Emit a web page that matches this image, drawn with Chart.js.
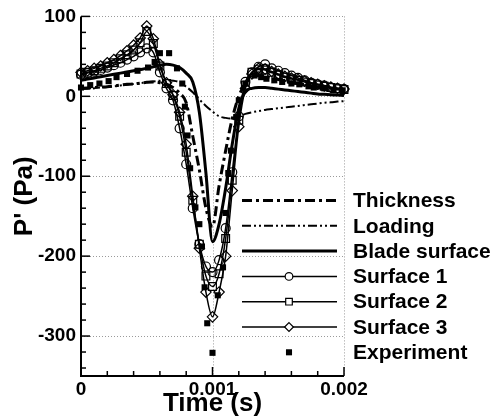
<!DOCTYPE html>
<html>
<head>
<meta charset="utf-8">
<script src="https://cdn.jsdelivr.net/npm/chart.js@4.4.1/dist/chart.umd.min.js"></script>
<style>
html,body{margin:0;padding:0;background:#fff;}
canvas{display:block;}
</style>
</head>
<body>
<canvas id="c" width="492" height="417"></canvas>
<script>
// ---- data (time in seconds, pressure in Pa) ----
const timeS = [0, 0.00005, 0.0001, 0.00015, 0.0002, 0.00025, 0.0003, 0.00035, 0.0004, 0.00045,
  0.0005, 0.00055, 0.0006, 0.00065, 0.0007, 0.00075, 0.0008, 0.00085, 0.0009, 0.00095,
  0.001, 0.00105, 0.0011, 0.00115, 0.0012, 0.00125, 0.0013, 0.00135, 0.0014, 0.00145,
  0.0015, 0.00155, 0.0016, 0.00165, 0.0017, 0.00175, 0.0018, 0.00185, 0.0019, 0.00195, 0.002];

const thickness = [10, 10.5, 11, 11.5, 12, 13, 14, 15, 15.5, 16.5,
  17.5, 18, 17, 15, 11, 4, -8, -50, -92, -140,
  -163, -112, -68, -28, 0, 16, 24, 26, 25, 23,
  21, 19, 17, 16, 14.5, 13, 12, 11, 10, 9, 8];

const loading = [9, 9.5, 10, 11, 11.5, 12.5, 13.5, 14.5, 15.5, 16.5,
  17.5, 18.5, 19.5, 20, 19.5, 17.5, 12, 5, -4, -12,
  -19, -25, -27, -28, -25, -22, -20, -18.5, -17, -16,
  -15, -14, -13, -12, -11, -10, -9, -8, -7.5, -6.5, -6];

const bladeSurface = [20, 21.5, 23, 24.5, 26, 27.5, 29, 30.5, 32, 33.5,
  35, 37, 39, 40, 39, 36, 29, 18, -20, -96,
  -182, -160, -115, -60, -15, 6, 10, 11, 11, 10,
  9, 8, 7, 6, 5, 4, 3, 2.5, 2, 1.5, 1];

const surface1 = [27, 29, 31, 33, 36, 39, 42, 46, 50, 55,
  60, 55, 30, 10, -5, -40, -85, -140, -185, -213,
  -220, -205, -165, -95, -25, 18, 30, 37, 40, 35,
  32, 29, 26, 23, 20, 17, 15, 13.5, 11, 10, 9];

const surface2 = [28, 30, 32, 35, 38, 42, 47, 52, 58, 67,
  81, 66, 38, 16, 1, -25, -70, -130, -185, -225,
  -238, -222, -178, -105, -30, 14, 30, 34, 33, 30,
  27, 24, 22, 20, 18, 16, 14, 12.5, 11, 9.5, 8.5];

const surface3 = [30, 32, 35, 38, 42, 46, 51, 57, 64, 73,
  88, 72, 40, 17, 2, -20, -60, -125, -190, -245,
  -276, -245, -200, -118, -38, 10, 28, 35, 34, 31,
  28, 25, 23, 21, 19, 17, 15, 13, 11.5, 10, 9];

const expTimeS = [0, 0.00007, 0.00014, 0.00021, 0.00027, 0.00035, 0.00043, 0.00051, 0.00056, 0.0006,
  0.00067, 0.00073, 0.00077, 0.00079, 0.00081, 0.00083, 0.00087, 0.0009, 0.00092, 0.00094,
  0.00096, 0.001, 0.00104, 0.00108, 0.0011, 0.00112, 0.00114, 0.00118, 0.0012, 0.00125,
  0.00132, 0.00137, 0.00141, 0.00147, 0.00153, 0.0016, 0.00166, 0.00173, 0.00177, 0.00185,
  0.00192, 0.00199];
const expP = [11, 14, 16, 19, 24, 28, 32, 36, 43, 54,
  54, 35, 16, -13, -49, -90, -139, -160, -188, -239,
  -284, -321, -249, -214, -146, -96, -68, -26, -5, 16,
  26, 24, 22, 20, 18, 16, 15, 12.5, 11, 10,
  7.5, 7.5];

const seriesNames = ['Thickness', 'Loading', 'Blade surface', 'Surface 1', 'Surface 2', 'Surface 3', 'Experiment'];
const xTickValues = [0, 0.001, 0.002];
const xTickLabels = ['0', '0.001', '0.002'];
const yTickValues = [100, 0, -100, -200, -300];
const yTickLabels = ['100', '0', '-100', '-200', '-300'];

// ---- chart ----
const FONT = '"Liberation Sans", Arial, Helvetica, sans-serif';
const pts = arr => timeS.map((t, i) => ({x: t, y: arr[i]}));
const NONE = 'rgba(0,0,0,0)';

function lineDs(label, arr, width, dash, pointStyle, radius) {
  return {
    label, data: pts(arr), borderColor: '#000', borderWidth: width, borderDash: dash,
    backgroundColor: NONE, fill: false, cubicInterpolationMode: 'monotone',
    pointStyle: pointStyle || 'circle', pointRadius: radius || 0,
    pointBorderColor: '#000', pointBackgroundColor: NONE, pointBorderWidth: 1.2,
    pointHoverRadius: radius || 0, clip: false
  };
}

const datasets = [
  lineDs(seriesNames[0], thickness, 3, [10, 4, 3, 4]),
  lineDs(seriesNames[1], loading, 2, [9, 3, 2, 3, 2, 3]),
  lineDs(seriesNames[2], bladeSurface, 3, []),
  lineDs(seriesNames[3], surface1, 1.5, [], 'circle', 4.5),
  lineDs(seriesNames[4], surface2, 1.5, [], 'rect', 5.5),
  lineDs(seriesNames[5], surface3, 1.5, [], 'rectRot', 5.2),
  {
    label: seriesNames[6], data: expTimeS.map((t, i) => ({x: t, y: expP[i]})),
    showLine: false, pointStyle: 'rect', pointRadius: 4.3, pointHoverRadius: 4.3,
    pointBackgroundColor: '#000', pointBorderColor: '#000', pointBorderWidth: 0,
    borderColor: '#000', backgroundColor: '#000', clip: false
  }
];

function drawMarker(ctx, style, x, y, r, filled) {
  ctx.beginPath();
  if (style === 'circle') {
    ctx.arc(x, y, r, 0, Math.PI * 2);
  } else if (style === 'rect') {
    const s = r * Math.SQRT1_2;
    ctx.rect(x - s, y - s, 2 * s, 2 * s);
  } else if (style === 'rectRot') {
    ctx.moveTo(x, y - r); ctx.lineTo(x + r, y); ctx.lineTo(x, y + r); ctx.lineTo(x - r, y); ctx.closePath();
  }
  if (filled) { ctx.fillStyle = '#000'; ctx.fill(); }
  else { ctx.fillStyle = '#fff'; ctx.fill(); ctx.lineWidth = 1.2; ctx.setLineDash([]); ctx.stroke(); }
}

const decor = {
  id: 'decor',
  beforeDatasetsDraw(chart) {
    const {ctx, chartArea: a, scales: {x, y}} = chart;
    ctx.save();
    ctx.strokeStyle = '#9a9a9a';
    ctx.lineWidth = 1;
    ctx.setLineDash([1, 2]);
    xTickValues.forEach(v => {
      if (v === x.min) return;
      const px = Math.round(x.getPixelForValue(v)) + 0.5;
      ctx.beginPath(); ctx.moveTo(px, a.top); ctx.lineTo(px, a.bottom); ctx.stroke();
    });
    yTickValues.forEach(v => {
      const py = Math.round(y.getPixelForValue(v)) + 0.5;
      ctx.beginPath(); ctx.moveTo(a.left, py); ctx.lineTo(a.right, py); ctx.stroke();
    });
    ctx.restore();
  },
  afterDatasetsDraw(chart) {
    const {ctx, chartArea: a, scales: {x, y}} = chart;
    ctx.save();
    ctx.strokeStyle = '#000';
    ctx.setLineDash([]);
    // axis lines
    ctx.lineWidth = 2;
    ctx.beginPath();
    ctx.moveTo(a.left, a.top); ctx.lineTo(a.left, a.bottom); ctx.lineTo(a.right, a.bottom);
    ctx.stroke();
    // ticks (inward)
    ctx.lineWidth = 1.5;
    const xStep = (xTickValues[1] - xTickValues[0]) / 5;
    for (let i = 0; i <= 10; i++) {
      const v = x.min + i * xStep;
      const px = x.getPixelForValue(v);
      const len = (i % 5 === 0) ? 9 : 5;
      ctx.beginPath(); ctx.moveTo(px, a.bottom); ctx.lineTo(px, a.bottom - len); ctx.stroke();
    }
    const yStep = (yTickValues[0] - yTickValues[1]) / 5;
    for (let v = y.max; v >= y.min - 0.001; v -= yStep) {
      const py = y.getPixelForValue(v);
      const len = (Math.round(v) % 100 === 0) ? 9 : 5;
      ctx.beginPath(); ctx.moveTo(a.left, py); ctx.lineTo(a.left + len, py); ctx.stroke();
    }
    ctx.restore();
  },
  afterDraw(chart) {
    const {ctx} = chart;
    ctx.save();
    const x0 = 242, x1 = 337, xm = 289, xt = 353;
    chart.data.datasets.forEach((ds, i) => {
      const yy = 200.5 + i * 25.3;
      ctx.strokeStyle = '#000';
      if (ds.showLine !== false) {
        ctx.lineWidth = ds.borderWidth;
        ctx.setLineDash(ds.borderDash || []);
        ctx.beginPath(); ctx.moveTo(x0, yy); ctx.lineTo(x1, yy); ctx.stroke();
        ctx.setLineDash([]);
        if (ds.pointRadius > 0) drawMarker(ctx, ds.pointStyle, xm, yy, ds.pointRadius * 0.85, false);
      } else {
        drawMarker(ctx, 'rect', xm, yy, ds.pointRadius, true);
      }
      ctx.fillStyle = '#000';
      ctx.font = 'bold 21px ' + FONT;
      ctx.textAlign = 'left';
      ctx.textBaseline = 'middle';
      ctx.fillText(ds.label, xt, yy + 1);
    });
    ctx.restore();
  }
};

new Chart(document.getElementById('c'), {
  type: 'line',
  data: {datasets},
  plugins: [decor],
  options: {
    responsive: false,
    animation: false,
    devicePixelRatio: 1,
    events: [],
    layout: {padding: {left: 0, right: 148, top: 16, bottom: 0}},
    plugins: {legend: {display: false}, tooltip: {enabled: false}},
    scales: {
      x: {
        type: 'linear', min: 0, max: 0.002,
        afterBuildTicks: s => { s.ticks = xTickValues.map(v => ({value: v})); },
        afterFit: s => { s.height = 41; },
        grid: {display: false, drawTicks: false},
        border: {display: false},
        ticks: {
          autoSkip: false, maxRotation: 0, padding: 2, color: '#000',
          font: {family: FONT, size: 19, weight: 'bold'},
          callback: v => xTickLabels[xTickValues.indexOf(v)]
        },
        title: {
          display: true, text: 'Time (s)', color: '#000',
          font: {family: FONT, size: 26, weight: 'bold', lineHeight: 1},
          padding: {top: 0, bottom: 0}
        }
      },
      y: {
        type: 'linear', min: -350, max: 100,
        afterBuildTicks: s => { s.ticks = yTickValues.map(v => ({value: v})); },
        afterFit: s => { s.width = 81; },
        grid: {display: false, drawTicks: false},
        border: {display: false},
        ticks: {
          autoSkip: false, padding: 5, color: '#000',
          font: {family: FONT, size: 19, weight: 'bold'},
          callback: v => yTickLabels[yTickValues.indexOf(v)]
        },
        title: {
          display: true, text: "P' (Pa)", color: '#000',
          font: {family: FONT, size: 26, weight: 'bold', lineHeight: 1},
          padding: {top: 12, bottom: 0}
        }
      }
    }
  }
});
</script>
</body>
</html>
